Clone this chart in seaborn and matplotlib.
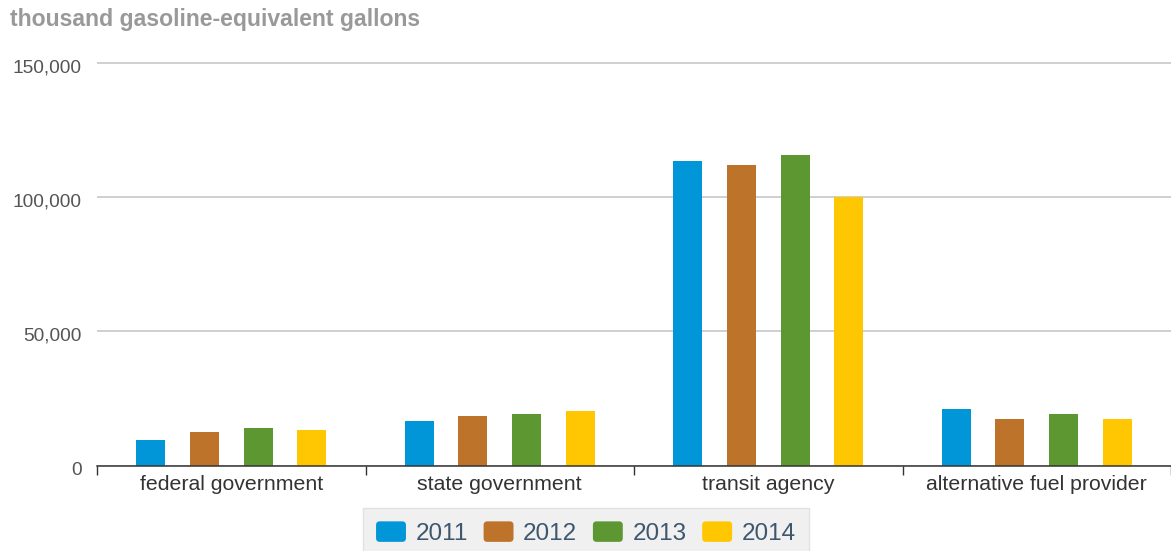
import matplotlib
matplotlib.use("Agg")
import matplotlib.pyplot as plt
import matplotlib.transforms as mtransforms
from matplotlib.legend_handler import HandlerBase
from matplotlib.patches import FancyBboxPatch
from matplotlib.ticker import FuncFormatter, FixedLocator
import pandas as pd
import seaborn as sns

# Fuel consumption by fleet type (thousand gasoline-equivalent gallons)
sectors = ["federal government", "state government", "transit agency", "alternative fuel provider"]
years = ["2011", "2012", "2013", "2014"]
values_2011 = [9700, 16800, 113300, 21300]
values_2012 = [12600, 18500, 111900, 17500]
values_2013 = [14000, 19200, 115600, 19200]
values_2014 = [13300, 20500, 100100, 17500]
year_colors = ["#0096d7", "#bd732a", "#5d9732", "#ffc702"]
y_ticks = [0, 50000, 100000, 150000]

series = [values_2011, values_2012, values_2013, values_2014]
df = pd.DataFrame(
    [(s, y, v) for y, vals in zip(years, series) for s, v in zip(sectors, vals)],
    columns=["sector", "year", "value"],
)

sns.set_theme(style="white")
plt.rcParams["font.family"] = ["Liberation Sans", "DejaVu Sans"]

W, H = 1171, 551
fig = plt.figure(figsize=(W / 100, H / 100), dpi=100)

# axes geometry in pixels
x0, x1 = 97, 1171
y_zero = 465.7
px_per_k = 2.685
y_max = 152000
y_top = y_zero - y_max / 1000 * px_per_k
ax = fig.add_axes([x0 / W, (H - y_zero) / H, (x1 - x0) / W, (y_zero - y_top) / H])

sns.barplot(
    data=df, x="sector", y="value", hue="year", order=sectors, hue_order=years,
    palette=year_colors, saturation=1, width=0.8, gap=0.46, linewidth=0,
    ax=ax,
)

handles, labels = ax.get_legend_handles_labels()
if ax.get_legend() is not None:
    ax.get_legend().remove()

ax.set_xlim(-0.5, len(sectors) - 0.5)
ax.set_ylim(0, y_max)
ax.set_xlabel("")
ax.set_ylabel("")

# horizontal gridlines
ax.yaxis.grid(True, color="#cccccc", linewidth=1.3)
ax.xaxis.grid(False)
ax.set_axisbelow(True)

for side in ["top", "right", "left"]:
    ax.spines[side].set_visible(False)
ax.spines["bottom"].set_color("#333333")
ax.spines["bottom"].set_linewidth(1.1)
ax.spines["bottom"].set_zorder(5)

# category boundary ticks (major) and centred labels (minor)
ax.xaxis.set_major_locator(FixedLocator([i - 0.5 for i in range(len(sectors) + 1)]))
ax.xaxis.set_minor_locator(FixedLocator(list(range(len(sectors)))))
ax.set_xticklabels([""] * (len(sectors) + 1))
ax.set_xticklabels(sectors, minor=True)
ax.tick_params(axis="x", which="major", length=6.5, width=1.0, color="#333333", direction="out", bottom=True)
ax.tick_params(axis="x", which="minor", length=0, pad=6.5, labelsize=15.3, labelcolor="#333333")

ax.yaxis.set_major_locator(FixedLocator(y_ticks))
ax.yaxis.set_major_formatter(FuncFormatter(lambda v, p: f"{v:,.0f}"))
ax.tick_params(axis="y", length=0, pad=11, labelsize=13.8, labelcolor="#555555")
offset = mtransforms.ScaledTranslation(0, -3 / 100, fig.dpi_scale_trans)
for lab in ax.get_yticklabels():
    lab.set_transform(lab.get_transform() + offset)

fig.text(10 / W, 1 - 8 / H, "thousand gasoline-equivalent gallons",
         ha="left", va="top", fontsize=16.6, fontweight="bold", color="#999999")


class RoundedSwatch(HandlerBase):
    def create_artists(self, legend, orig_handle, xdescent, ydescent,
                       width, height, fontsize, trans):
        r = height * 0.18
        p = FancyBboxPatch(
            (-xdescent + r, -ydescent + r), width - 2 * r, height - 2 * r,
            boxstyle=f"round,pad={r}", facecolor=orig_handle.get_facecolor(),
            edgecolor="none", transform=trans,
        )
        return [p]


leg = fig.legend(
    handles, labels, loc="upper center", bbox_to_anchor=(586 / W, 1 - 508 / H),
    ncol=4, fontsize=17.5, frameon=True, fancybox=False, framealpha=1,
    facecolor="#f0f0f0", edgecolor="#e2e2e2", handlelength=1.23,
    handleheight=0.92, handletextpad=0.4, columnspacing=0.64, borderpad=0.55,
    borderaxespad=0, labelcolor="#3e576f",
    handler_map={type(handles[0]): RoundedSwatch()},
)

fig.savefig("out.png", dpi=100)
